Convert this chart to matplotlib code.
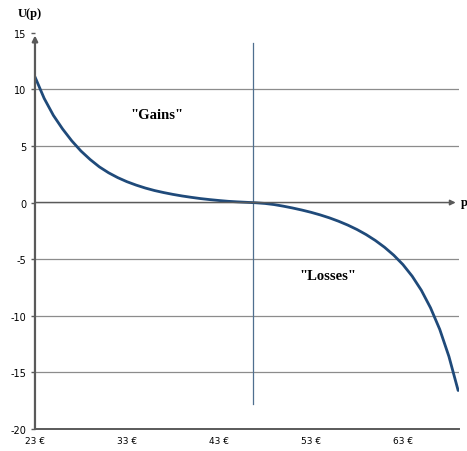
import matplotlib
matplotlib.use("Agg")
import matplotlib.pyplot as plt

# values
p = [23, 24, 25, 26, 27, 28, 29, 30, 31, 32, 33, 34, 35, 36, 37, 38, 39, 40,
     41, 42, 43, 44, 45, 46, 47, 48, 49, 50, 51, 52, 53, 54, 55, 56, 57, 58,
     59, 60, 61, 62, 63, 64, 65, 66, 67, 68, 69]
u = [11.1, 9.2, 7.7, 6.5, 5.45, 4.55, 3.8, 3.15, 2.63, 2.2, 1.84, 1.54,
     1.28, 1.06, 0.88, 0.72, 0.58, 0.46, 0.35, 0.26, 0.18, 0.11, 0.06, 0.02,
     -0.02, -0.08, -0.18, -0.32, -0.48, -0.66, -0.86, -1.09, -1.35, -1.65,
     -1.99, -2.38, -2.83, -3.35, -3.95, -4.65, -5.48, -6.5, -7.75, -9.3,
     -11.2, -13.6, -16.6]
x_ticks = [23, 33, 43, 53, 63]
x_labels = ["23 €", "33 €", "43 €", "53 €", "63 €"]
y_ticks = [-20, -15, -10, -5, 0, 5, 10, 15]
ref_price = 46.66
ref_span = (-17.8, 14.1)

fig = plt.figure(figsize=(4.67, 4.52), dpi=100)
ax = fig.add_axes([0.0749, 0.0487, 0.9081, 0.8767])
ax.set_xlim(23, 69.1)
ax.set_ylim(-20, 15)

grid_col = "#8c8c8c"
axis_col = "#5a5a5a"
for y in [-15, -10, -5, 5, 10]:
    ax.axhline(y, color=grid_col, lw=0.9, zorder=1)

ax.plot([ref_price, ref_price], ref_span, color="#4f6f8f", lw=0.9, zorder=2)
ax.plot(p, u, color="#1f4a7a", lw=2.0, zorder=3, solid_capstyle="round",
        solid_joinstyle="round")

# x axis at zero with arrow
ax.annotate("", xy=(1.0 - 0.008, 20 / 35), xytext=(0, 20 / 35),
            xycoords="axes fraction",
            arrowprops=dict(arrowstyle="-|>", color=axis_col, lw=1.1,
                            mutation_scale=8, shrinkA=0, shrinkB=0))
# y axis with arrow
ax.annotate("", xy=(0, 1.0 - 0.007), xytext=(0, 0),
            xycoords="axes fraction",
            arrowprops=dict(arrowstyle="-|>", color=axis_col, lw=1.6,
                            mutation_scale=8, shrinkA=0, shrinkB=0))

for s in ["top", "right", "left"]:
    ax.spines[s].set_visible(False)
ax.spines["bottom"].set_color(axis_col)
ax.spines["bottom"].set_linewidth(1.4)

ax.set_xticks(x_ticks)
ax.set_xticklabels(x_labels, fontsize=6.5)
ax.tick_params(axis="x", length=0, pad=5)
ax.set_yticks(y_ticks)
ax.set_yticklabels([str(v) for v in y_ticks], fontsize=7)
ax.tick_params(axis="y", length=3, color=axis_col, width=1, pad=3)

serif = ["Liberation Serif", "DejaVu Serif"]
fig.text(30 / 467, 1 - 14 / 452, "U(p)", fontsize=9, fontweight="bold",
         family=serif, ha="center", va="center")
fig.text(461 / 467, 1 - 203 / 452, "p", fontsize=9, fontweight="bold",
         family=serif, ha="left", va="center")
ax.text(36.3, 7.8, '"Gains"', fontsize=10.5, fontweight="bold",
        family=serif, ha="center", va="center")
ax.text(54.8, -6.4, '"Losses"', fontsize=10.5, fontweight="bold",
        family=serif, ha="center", va="center")

fig.savefig("out.png", dpi=100)
